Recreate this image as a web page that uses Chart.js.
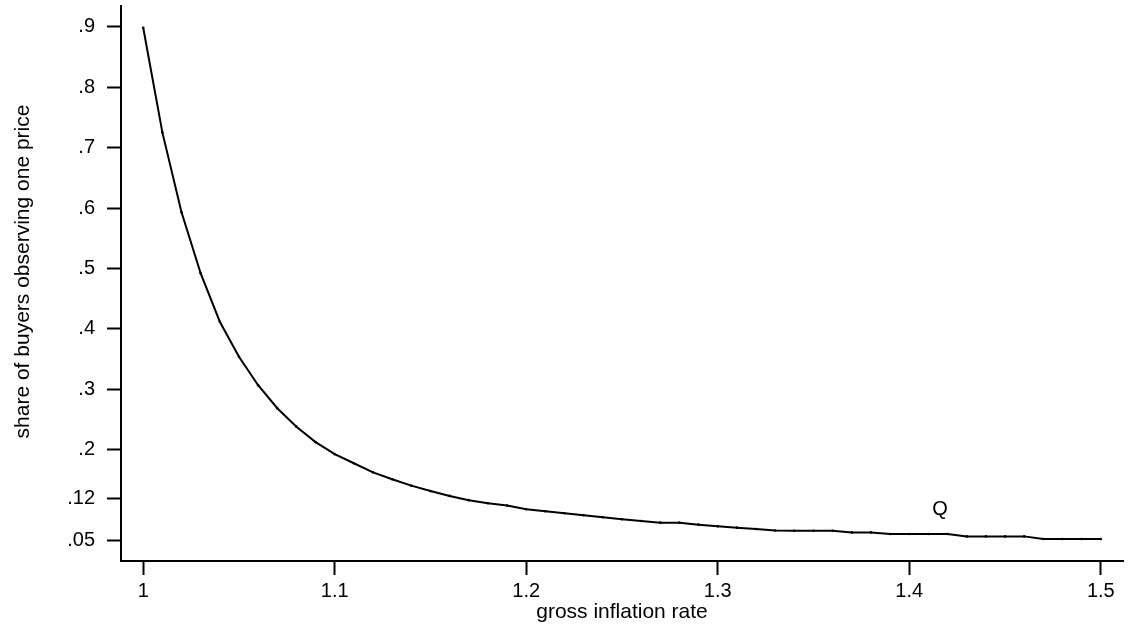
<!DOCTYPE html>
<html>
<head>
<meta charset="utf-8">
<script src="https://cdn.jsdelivr.net/npm/chart.js@4/dist/chart.umd.min.js"></script>
<style>
    html, body { margin: 0; padding: 0; background: #fff; }
    #wrap { width: 1131px; height: 631px; }
</style>
</head>
<body>
<div id="wrap"><canvas id="share-chart"></canvas></div>
<script>
// gross inflation rate (x) and share of buyers observing one price (y)
const inflation = [
    1.00, 1.01, 1.02, 1.03, 1.04, 1.05, 1.06, 1.07, 1.08, 1.09,
    1.10, 1.11, 1.12, 1.13, 1.14, 1.15, 1.16, 1.17, 1.18, 1.19,
    1.20, 1.21, 1.22, 1.23, 1.24, 1.25, 1.26, 1.27, 1.28, 1.29,
    1.30, 1.31, 1.32, 1.33, 1.34, 1.35, 1.36, 1.37, 1.38, 1.39,
    1.40, 1.41, 1.42, 1.43, 1.44, 1.45, 1.46, 1.47, 1.48, 1.49,
    1.50,
];
const shareOnePrice = [
    0.898, 0.725, 0.593, 0.492, 0.412, 0.354, 0.307, 0.269, 0.2385, 0.213,
    0.193, 0.178, 0.163, 0.1515, 0.141, 0.132, 0.124, 0.117, 0.112, 0.108,
    0.102, 0.0986, 0.0953, 0.092, 0.0887, 0.0854, 0.0826, 0.0798, 0.0798, 0.0765,
    0.0737, 0.0715, 0.0693, 0.0668, 0.0665, 0.0665, 0.0665, 0.0637, 0.0637, 0.061,
    0.061, 0.061, 0.061, 0.0571, 0.0571, 0.0571, 0.0571, 0.0527, 0.0527, 0.0527,
    0.0527,
];

// tick positions and their printed labels
const xTickValues = [1, 1.1, 1.2, 1.3, 1.4, 1.5];
const xTickLabels = ["1", "1.1", "1.2", "1.3", "1.4", "1.5"];
const yTickValues = [0.05, 0.12, 0.2, 0.3, 0.4, 0.5, 0.6, 0.7, 0.8, 0.9];
const yTickLabels = [".05", ".12", ".2", ".3", ".4", ".5", ".6", ".7", ".8", ".9"];

const yTitle = "share of buyers observing one price";

// text marker on the curve
const markerText = "Q";
const markerAt = { x: 1.416, y: 0.1008 };

const fontFamily = "'Liberation Sans', Arial, Helvetica, sans-serif";
const ink = "#000";

// draws the "Q" label in data coordinates, and the y title a little above centre
const textPlugin = {
    id: "extraText",
    afterDatasetsDraw(chart) {
        const { ctx, scales, chartArea } = chart;
        ctx.save();
        ctx.fillStyle = ink;
        ctx.font = `20px ${fontFamily}`;
        ctx.textAlign = "center";
        ctx.textBaseline = "middle";
        ctx.fillText(
            markerText,
            scales.x.getPixelForValue(markerAt.x),
            scales.y.getPixelForValue(markerAt.y),
        );
        // y axis title, rotated
        ctx.font = `21px ${fontFamily}`;
        ctx.translate(23, (chartArea.top + chartArea.bottom) / 2 - 12);
        ctx.rotate(-Math.PI / 2);
        ctx.fillText(yTitle, 0, 0);
        ctx.restore();
    },
};

function fixedTicks(values) {
    return function (scale) {
        scale.ticks = values.map((v) => ({ value: v }));
    };
}

new Chart(document.getElementById("share-chart"), {
    type: "line",
    data: {
        datasets: [
            {
                data: inflation.map((x, i) => ({ x: x, y: shareOnePrice[i] })),
                borderColor: ink,
                borderWidth: 2,
                backgroundColor: ink,
                pointRadius: 1.3,
                pointBorderWidth: 0,
                pointBackgroundColor: ink,
                tension: 0,
                fill: false,
            },
        ],
    },
    options: {
        responsive: true,
        maintainAspectRatio: false,
        animation: false,
        layout: {
            padding: { top: 6, right: 8, left: 0, bottom: 0 },
        },
        scales: {
            x: {
                type: "linear",
                min: 0.9884,
                max: 1.5116,
                afterBuildTicks: fixedTicks(xTickValues),
                afterFit(scale) {
                    scale.height = 70;
                },
                ticks: {
                    color: ink,
                    padding: 4,
                    maxRotation: 0,
                    autoSkip: false,
                    font: { family: fontFamily, size: 20 },
                    callback: (val) => xTickLabels[xTickValues.indexOf(val)],
                },
                grid: {
                    drawOnChartArea: false,
                    tickLength: 14,
                    tickWidth: 2,
                    tickColor: ink,
                },
                border: { color: ink, width: 2 },
                title: {
                    display: true,
                    text: "gross inflation rate",
                    color: ink,
                    padding: { top: 0, bottom: 6 },
                    font: { family: fontFamily, size: 21 },
                },
            },
            y: {
                type: "linear",
                min: 0.0164,
                max: 0.934,
                afterBuildTicks: fixedTicks(yTickValues),
                afterFit(scale) {
                    scale.width = 121;
                    // labels sit inside the range, so no extra room is needed
                    scale.paddingTop = 0;
                    scale.paddingBottom = 0;
                },
                ticks: {
                    color: ink,
                    padding: 12,
                    autoSkip: false,
                    font: { family: fontFamily, size: 20 },
                    callback: (val) => yTickLabels[yTickValues.indexOf(val)],
                },
                grid: {
                    drawOnChartArea: false,
                    tickLength: 14,
                    tickWidth: 2,
                    tickColor: ink,
                },
                border: { color: ink, width: 2 },
                title: { display: false },
            },
        },
        plugins: {
            legend: { display: false },
            tooltip: { enabled: false },
        },
    },
    plugins: [textPlugin],
});
</script>
</body>
</html>
